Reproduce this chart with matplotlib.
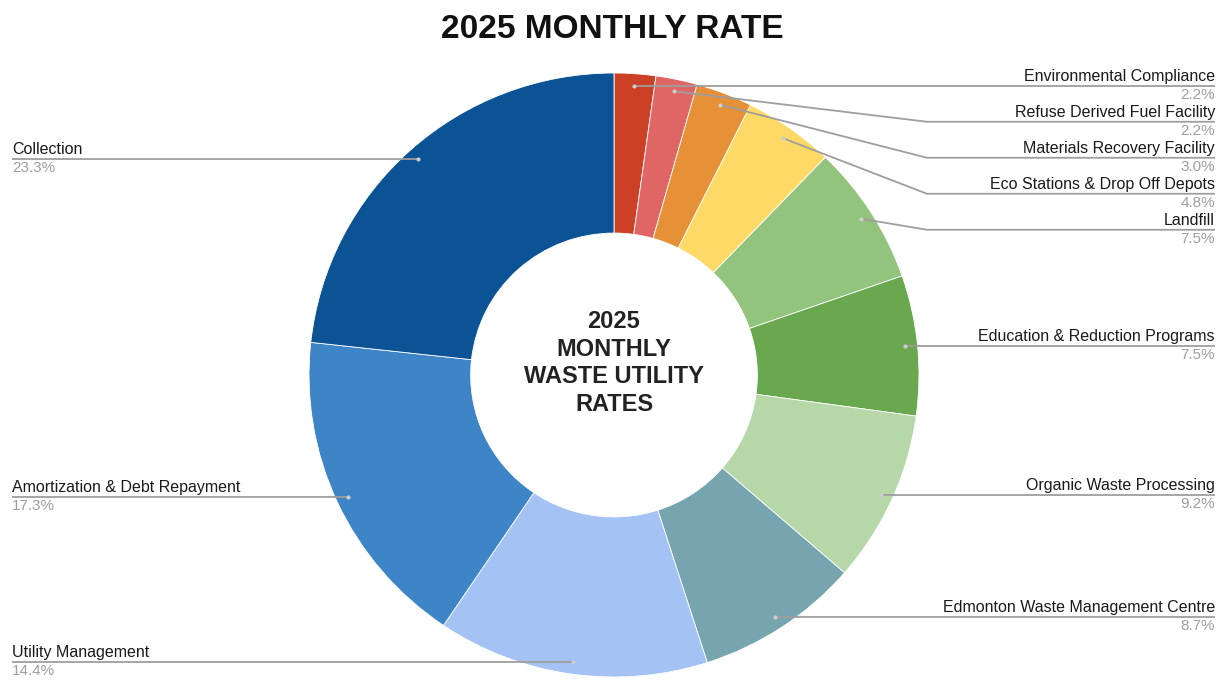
import numpy as np
import matplotlib.pyplot as plt

# データ
categories = ['Environmental Compliance', 'Refuse Derived Fuel Facility',
              'Materials Recovery Facility', 'Eco Stations & Drop Off Depots',
              'Landfill', 'Education & Reduction Programs', 'Organic Waste Processing',
              'Edmonton Waste Management Centre', 'Utility Management',
              'Amortization & Debt Repayment', 'Collection']
values = [2.2, 2.2, 3.0, 4.8, 7.5, 7.5, 9.2, 8.7, 14.4, 17.3, 23.3]
colors = ['#cc4125', '#e06666', '#e69138', '#ffd966', '#93c47d', '#6aa84f',
          '#b6d7a8', '#76a5af', '#a4c2f4', '#3d85c6', '#0b5394']

plt.rcParams['font.family'] = ['Liberation Sans', 'DejaVu Sans']

W, H = 1225, 682
fig = plt.figure(figsize=(W / 100, H / 100), dpi=100)

# 円グラフ本体 (中心と半径はピクセル単位)
cx, cy, rx, ry = 614, 375, 305, 302
ax = fig.add_axes([0, 0, 1, 1])
wedges, _ = ax.pie(values, colors=colors, startangle=90, counterclock=False,
                   radius=1, wedgeprops=dict(width=0.53, edgecolor='white', linewidth=0.6))
ax.set_aspect('auto')
ax.set_xlim(-cx / rx, (W - cx) / rx)
ax.set_ylim(-(H - cy) / ry, cy / ry)
ax.axis('off')

# ラベル用のピクセル座標の軸
ov = fig.add_axes([0, 0, 1, 1])
ov.set_xlim(0, W)
ov.set_ylim(H, 0)
ov.axis('off')

def to_px(x, y):
    disp = ax.transData.transform((x, y))
    return ov.transData.inverted().transform(disp)

anchors = []
for w, name, v in zip(wedges, categories, values):
    t = np.deg2rad((w.theta1 + w.theta2) / 2)
    px, py = to_px(0.96 * np.cos(t), 0.96 * np.sin(t))
    anchors.append((px, py, name, v))

line_c = '#9e9e9e'
gap = 36
for side in ['right', 'left']:
    pts = [a for a in anchors if (a[0] > cx) == (side == 'right')]
    pts.sort(key=lambda a: a[1])
    prev = -1e9
    for px, py, name, v in pts:
        ly = max(py, prev + gap)
        prev = ly
        if side == 'right':
            bend = 927
            xs = [px, bend, 1215] if ly > py + 1 else [px, 1215]
            ys = [py, ly, ly] if ly > py + 1 else [ly, ly]
            tx, ha = 1215, 'right'
        else:
            xs = [px, 12]
            ys = [ly, ly]
            tx, ha = 12, 'left'
        ov.plot(xs, ys, color=line_c, lw=1.3, solid_capstyle='butt')
        ov.plot(px, py, 'o', color='#cccccc', ms=3, mec='none')
        ov.text(tx, ly - 2, name, ha=ha, va='bottom', fontsize=11.5, color='#1a1a1a')
        ov.text(tx, ly + 2, f'{v:.1f}%', ha=ha, va='top', fontsize=11, color='#9e9e9e')

# タイトルと中央テキスト
fig.text(0.5, 1 - 30 / H, '2025 MONTHLY RATE', ha='center', va='center',
         fontsize=24, weight='bold', color='#111111')
ov.text(cx, 363, '2025\nMONTHLY\nWASTE UTILITY\nRATES', ha='center', va='center',
        fontsize=17, weight='bold', color='#222222', linespacing=1.25)

fig.savefig('out.png', dpi=100, facecolor='white')
